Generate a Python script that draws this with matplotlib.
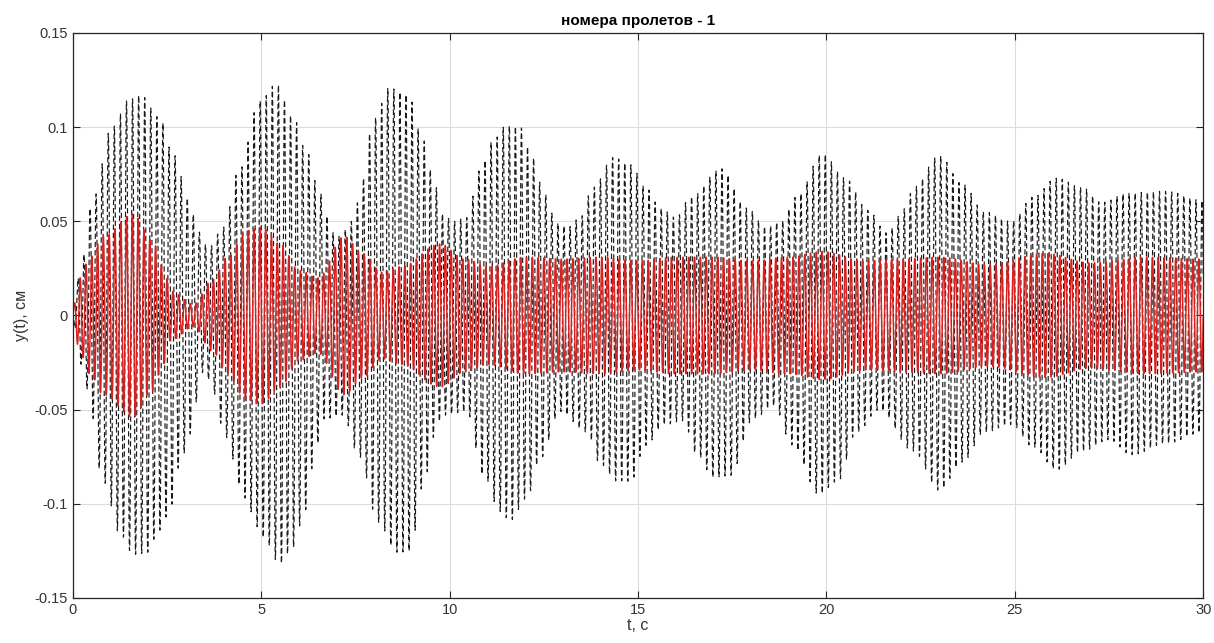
import numpy as np
import matplotlib
matplotlib.use("Agg")
import matplotlib.pyplot as plt

# огибающие колебаний (t, амплитуда), снятые по пикам
t_blk_hi = [0, 0.24, 0.53, 1.03, 1.5, 1.8, 2.3, 2.65, 3.1, 3.3, 3.6, 4.0, 4.4, 4.96, 5.4, 5.85,
            6.2, 6.55, 6.9, 7.1, 7.35, 7.55, 8.0, 8.4, 8.9, 9.3, 9.6, 9.8, 10.1, 10.45, 10.8,
            11.15, 11.5, 11.87, 12.2, 12.5, 12.85, 13.15, 13.46, 13.8, 14.35, 14.8, 15.2, 15.6,
            16.0, 16.4, 17.2, 17.9, 18.4, 18.8, 19.2, 19.9, 20.5, 21.1, 21.6, 22.1, 22.3, 23.0,
            23.6, 24.2, 24.9, 25.5, 26.1, 26.8, 27.3, 28.0, 29.0, 30.0]
y_blk_hi = [0.005, 0.03, 0.062, 0.1, 0.115, 0.117, 0.105, 0.086, 0.061, 0.045, 0.036, 0.047,
            0.077, 0.114, 0.123, 0.105, 0.087, 0.065, 0.044, 0.042, 0.049, 0.06, 0.105, 0.121,
            0.117, 0.093, 0.07, 0.054, 0.05, 0.052, 0.077, 0.093, 0.101, 0.1, 0.084, 0.065,
            0.049, 0.047, 0.052, 0.068, 0.084, 0.08, 0.068, 0.057, 0.052, 0.063, 0.078, 0.057,
            0.047, 0.05, 0.063, 0.086, 0.073, 0.056, 0.044, 0.057, 0.068, 0.085, 0.07, 0.055,
            0.05, 0.063, 0.073, 0.068, 0.06, 0.065, 0.066, 0.061]

t_blk_lo = [0, 0.37, 0.8, 1.25, 1.6, 1.96, 2.3, 2.57, 2.8, 3.05, 3.2, 3.4, 3.6, 4.08, 4.43,
            4.7, 5.04, 5.5, 5.85, 6.15, 6.47, 6.63, 7.16, 7.6, 8.1, 8.6, 8.95, 9.3, 9.6, 9.8,
            10.45, 10.9, 11.33, 11.6, 12.05, 12.4, 12.93, 13.64, 14.0, 14.44, 14.8, 15.2, 15.7,
            16.2, 16.56, 17.0, 17.45, 18.05, 18.6, 19.1, 19.8, 20.3, 20.8, 21.4, 22.3, 23.0,
            23.6, 24.2, 24.9, 25.5, 26.1, 26.8, 27.5, 28.1, 29.0, 30.0]
y_blk_lo = [-0.005, -0.039, -0.088, -0.116, -0.127, -0.126, -0.114, -0.104, -0.081, -0.069,
            -0.053, -0.03, -0.034, -0.065, -0.09, -0.104, -0.118, -0.132, -0.123, -0.104,
            -0.069, -0.055, -0.053, -0.075, -0.11, -0.126, -0.125, -0.09, -0.064, -0.053,
            -0.051, -0.085, -0.104, -0.109, -0.097, -0.076, -0.051, -0.062, -0.079, -0.088,
            -0.088, -0.069, -0.058, -0.056, -0.074, -0.086, -0.085, -0.055, -0.048, -0.069,
            -0.095, -0.088, -0.062, -0.05, -0.072, -0.093, -0.078, -0.062, -0.058, -0.07,
            -0.082, -0.072, -0.066, -0.074, -0.068, -0.062]

t_red = [0, 0.19, 0.45, 0.8, 1.6, 2.1, 2.4, 2.6, 3.2, 3.7, 4.1, 4.6, 5.0, 5.5, 6.0, 6.5, 7.2,
         7.7, 8.2, 8.7, 9.75, 10.4, 11.0, 12.0, 13.0, 14.0, 15.0, 16.0, 17.0, 18.0, 19.0, 19.9,
         21.0, 22.0, 23.0, 24.3, 25.8, 27.0, 28.5, 30.0]
y_red = [0.005, 0.02, 0.031, 0.042, 0.054, 0.04, 0.026, 0.013, 0.006, 0.019, 0.031, 0.045,
         0.047, 0.038, 0.024, 0.02, 0.042, 0.033, 0.023, 0.026, 0.038, 0.03, 0.026, 0.031,
         0.03, 0.031, 0.029, 0.031, 0.031, 0.029, 0.031, 0.034, 0.029, 0.03, 0.031, 0.027,
         0.033, 0.028, 0.031, 0.03]

f_blk = 6.2   # частота несущей, Гц
f_red = 6.5

x_ticks = [0, 5, 10, 15, 20, 25, 30]
y_ticks = [-0.15, -0.1, -0.05, 0, 0.05, 0.1, 0.15]
y_tick_labels = ["-0.15", "-0.1", "-0.05", "0", "0.05", "0.1", "0.15"]


def smooth_env(t, tk, yk):
    # косинусная интерполяция между узлами огибающей
    tk = np.asarray(tk); yk = np.asarray(yk)
    i = np.clip(np.searchsorted(tk, t, side="right") - 1, 0, len(tk) - 2)
    s = (t - tk[i]) / (tk[i + 1] - tk[i])
    w = (1 - np.cos(np.pi * s)) / 2
    return yk[i] + (yk[i + 1] - yk[i]) * w


t = np.arange(0, 30.0001, 0.004)
hi = smooth_env(t, t_blk_hi, y_blk_hi)
lo = smooth_env(t, t_blk_lo, y_blk_lo)
y1 = (hi + lo) / 2 + (hi - lo) / 2 * np.cos(2 * np.pi * f_blk * t + 1.2)
y2 = smooth_env(t, t_red, y_red) * np.sin(2 * np.pi * f_red * t)

plt.rcParams['font.family'] = ['Liberation Sans', 'DejaVu Sans']
fig = plt.figure(figsize=(12.14, 6.43), dpi=100)
ax = fig.add_axes([0.0601, 0.07, 0.931, 0.8787])

ax.plot(t, y1, color="#1a1a1a", lw=0.85, linestyle=(0, (4.5, 2.5)))
ax.plot(t, y2, color="#d82020", lw=1.05)

ax.set_xlim(0, 30)
ax.set_ylim(-0.15, 0.15)
ax.set_xticks(x_ticks)
ax.set_yticks(y_ticks)
ax.set_yticklabels(y_tick_labels)
ax.grid(True, color="#dcdcdc", lw=0.8)
ax.set_axisbelow(True)
ax.tick_params(direction="in", top=True, right=True, length=5, colors="#262626",
               labelsize=10.5, labelcolor="#333333")
for sp in ax.spines.values():
    sp.set_color("#262626")
    sp.set_linewidth(0.9)

ax.set_title("номера пролетов - 1", fontsize=11, fontweight="bold", pad=6)
ax.set_xlabel("t, с", fontsize=11.5, color="#333333", labelpad=1)
ax.set_ylabel("y(t), см", fontsize=11.5, color="#333333", labelpad=4)

fig.savefig("out.png", dpi=100)
